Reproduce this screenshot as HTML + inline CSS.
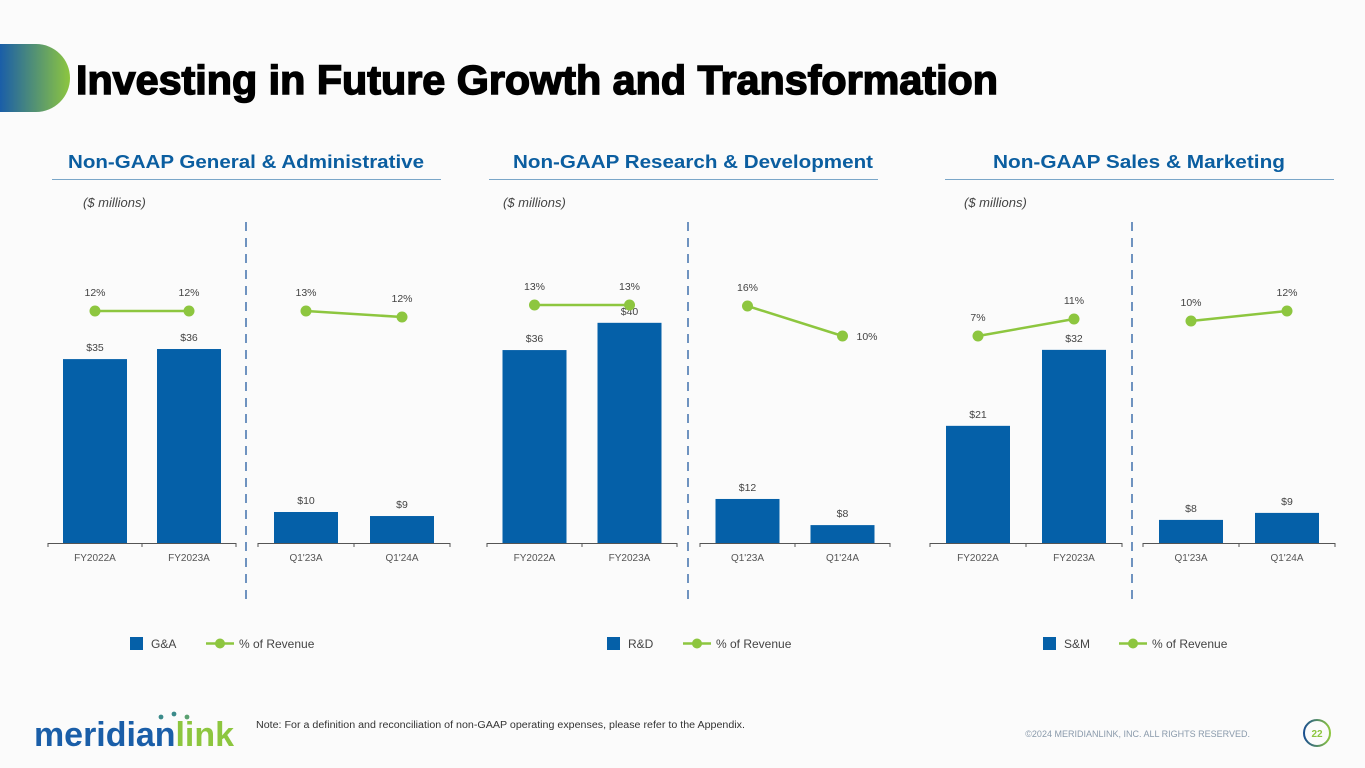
<!DOCTYPE html>
<html><head><meta charset="utf-8"><style>
html,body{margin:0;padding:0;background:#fbfbfb;}
svg{display:block;font-family:"Liberation Sans",sans-serif;}
</style></head><body>
<svg width="1365" height="768" viewBox="0 0 1365 768">
<defs>
<linearGradient id="tab" x1="0" x2="1"><stop offset="0" stop-color="#1a5ea8"/><stop offset="1" stop-color="#8dc63f"/></linearGradient>
<linearGradient id="ring" x1="0" x2="1"><stop offset="0" stop-color="#1a4f8f"/><stop offset="1" stop-color="#8dc63f"/></linearGradient>
</defs>
<path d="M0 44 H36 A34 34 0 0 1 36 112 H0 Z" fill="url(#tab)"/>
<text x="76" y="94" font-size="41" font-weight="bold" fill="#000" stroke="#000" stroke-width="1.5" textLength="922" lengthAdjust="spacingAndGlyphs">Investing in Future Growth and Transformation</text>
<g id="charts"></g>
<text x="256" y="728" font-size="10" fill="#333" textLength="489" lengthAdjust="spacingAndGlyphs">Note: For a definition and reconciliation of non-GAAP operating expenses, please refer to the Appendix.</text>
<text x="1250" y="737" font-size="9" fill="#8a9aab" text-anchor="end">©2024 MERIDIANLINK, INC. ALL RIGHTS RESERVED.</text>
<circle cx="1317" cy="733" r="13" fill="none" stroke="url(#ring)" stroke-width="2"/>
<text x="1317" y="737" font-size="10" font-weight="bold" fill="#8dc63f" text-anchor="middle">22</text>
<g>
<circle cx="161" cy="717" r="2.4" fill="#3a8a8a"/><circle cx="174" cy="714" r="2.4" fill="#3a8a8a"/><circle cx="187" cy="717" r="2.4" fill="#5aa070"/>
<text x="34" y="746" font-size="34" font-weight="bold" fill="#1a5ea8" textLength="200" lengthAdjust="spacingAndGlyphs">meridian<tspan fill="#8dc63f">link</tspan></text>
</g>
</svg>
<script>
// ---- data ----
const panelTitles = ["Non-GAAP General & Administrative","Non-GAAP Research & Development","Non-GAAP Sales & Marketing"];
const seriesNames = ["G&A","R&D","S&M"];
const annualCats = ["FY2022A","FY2023A"];
const quarterCats = ["Q1'23A","Q1'24A"];
const gaAnnual = [34.7, 36.6];
const gaQuarter = [10.0, 8.7];
const rdAnnual = [35.4, 40.4];
const rdQuarter = [12.3, 5.0];
const smAnnual = [20.2, 33.3];
const smQuarter = [6.6, 8.6];
const gaAnnualLabels = ["$35","$36"];
const gaQuarterLabels = ["$10","$9"];
const rdAnnualLabels = ["$36","$40"];
const rdQuarterLabels = ["$12","$8"];
const smAnnualLabels = ["$21","$32"];
const smQuarterLabels = ["$8","$9"];
const gaAnnualPct = [12, 12];
const gaQuarterPct = [13, 12];
const rdAnnualPct = [13, 13];
const rdQuarterPct = [16, 10];
const smAnnualPct = [7, 11];
const smQuarterPct = [10, 12];

// ---- layout ----
const NS="http://www.w3.org/2000/svg";
const root=document.getElementById('charts');
function mk(tag,attrs,parent){const e=document.createElementNS(NS,tag);for(const k in attrs)e.setAttribute(k,attrs[k]);(parent||root).appendChild(e);return e;}
const BLUE="#0560a8",GREEN="#8dc63f",BASE=543;
const groups=[
 {x0:48,x1:236,bars:gaAnnual,labels:gaAnnualLabels,pct:gaAnnualPct,cats:annualCats,k:5.3,py:311,pr:12,pk:4.25,name:'ga-annual'},
 {x0:258,x1:450,bars:gaQuarter,labels:gaQuarterLabels,pct:gaQuarterPct,cats:quarterCats,k:3.1,py:317,pr:12,pk:6,name:'ga-quarter'},
 {x0:487,x1:677,bars:rdAnnual,labels:rdAnnualLabels,pct:rdAnnualPct,cats:annualCats,k:5.45,py:305,pr:13,pk:4.25,name:'rd-annual'},
 {x0:700,x1:890,bars:rdQuarter,labels:rdQuarterLabels,pct:rdQuarterPct,cats:quarterCats,k:3.58,py:336,pr:10,pk:5,name:'rd-quarter'},
 {x0:930,x1:1122,bars:smAnnual,labels:smAnnualLabels,pct:smAnnualPct,cats:annualCats,k:5.8,py:336,pr:7,pk:4.25,name:'sm-annual'},
 {x0:1143,x1:1335,bars:smQuarter,labels:smQuarterLabels,pct:smQuarterPct,cats:quarterCats,k:3.5,py:321,pr:10,pk:5,name:'sm-quarter'}
];
const headerX=[[52,441],[489,878],[945,1334]];
const headerText=[[68,356],[513,360],[993,292]];
const millionsX=[83,503,964];
const dividers=[246,688,1132];
const legendX=[130,607,1043];

headerX.forEach((h,i)=>{
 const t=mk('text',{x:headerText[i][0],y:168,'font-size':18,'font-weight':'bold',fill:'#0b5ea0',textLength:headerText[i][1],lengthAdjust:'spacingAndGlyphs'});
 
 
 t.textContent=panelTitles[i];
 const l=mk('line',{x1:h[0],x2:h[1],y1:179.5,y2:179.5,stroke:'#7aa6c8','stroke-width':1});
 
 
 const m=mk('text',{x:millionsX[i],y:207,'font-size':13,'font-style':'italic',fill:'#444'});
 
 
 m.textContent='($ millions)';
 const d=mk('line',{x1:dividers[i],x2:dividers[i],y1:222,y2:606,stroke:'#6f93c0','stroke-width':2,'stroke-dasharray':'9,7'});
 
 
 const lx=legendX[i];
 const sq=mk('rect',{x:lx,y:637,width:13,height:13,fill:BLUE});
 
 
 const st=mk('text',{x:lx+21,y:648,'font-size':12,fill:'#444'});
 
 
 st.textContent=seriesNames[i];
 const ll=mk('line',{x1:lx+76,x2:lx+104,y1:643.5,y2:643.5,stroke:GREEN,'stroke-width':2.5});
 
 
 const lc=mk('circle',{cx:lx+90,cy:643.5,r:5,fill:GREEN});
 
 
 const lt=mk('text',{x:lx+109,y:648,'font-size':12,fill:'#444'});
 
 
 lt.textContent='% of Revenue';
});

groups.forEach(g=>{
 const w=g.x1-g.x0, slot=w/2, bw=64;
 const xC=i=>g.x0+slot*(i+0.5);
 const yB=v=>BASE-v*g.k;
 const yP=p=>g.py-(p-g.pr)*g.pk;
 const ax=mk('line',{x1:g.x0,x2:g.x1,y1:BASE+0.5,y2:BASE+0.5,stroke:'#555','stroke-width':1});
 
 
 [g.x0,g.x0+slot,g.x1].forEach(tx=>{const t=mk('line',{x1:tx,x2:tx,y1:BASE,y2:BASE+4,stroke:'#555'});
  
  });
 g.bars.forEach((v,i)=>{
  const r=mk('rect',{x:xC(i)-bw/2,y:yB(v),width:bw,height:v*g.k,fill:BLUE});
  
  
  const t=mk('text',{x:xC(i),y:yB(v)-8,'font-size':10.5,fill:'#444','text-anchor':'middle'});
  
  
  t.textContent=g.labels[i];
  const c=mk('text',{x:xC(i),y:561,'font-size':10,fill:'#555','text-anchor':'middle'});
  
  
  c.textContent=g.cats[i];
 });
 const pl=mk('polyline',{points:g.pct.map((p,i)=>xC(i)+','+yP(p)).join(' '),fill:'none',stroke:GREEN,'stroke-width':2.5});
 
 
 g.pct.forEach((p,i)=>{
  const c=mk('circle',{cx:xC(i),cy:yP(p),r:5.5,fill:GREEN});
  
  
  const side = (g.name==='rd-quarter' && i===1);
  const t=mk('text',{x:side?xC(i)+14:xC(i),y:side?yP(p)+4:yP(p)-15,'font-size':10.5,fill:'#444','text-anchor':side?'start':'middle'});
  
  
  t.textContent=p+'%';
 });
});
</script>
</body></html>
